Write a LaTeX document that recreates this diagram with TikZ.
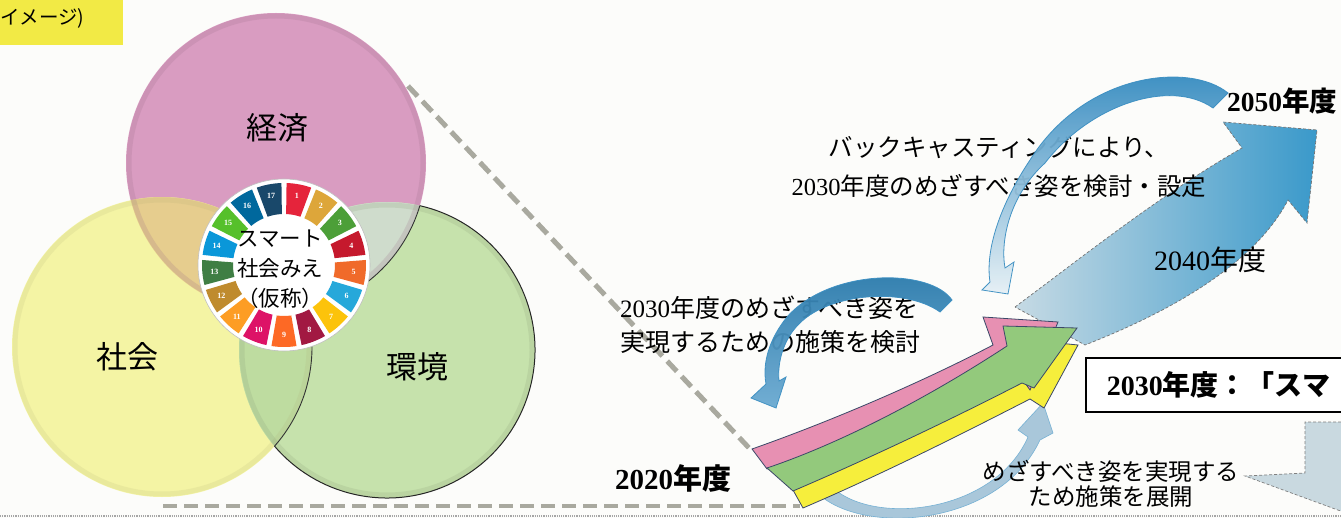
\documentclass[tikz,border=0pt]{standalone}
\usepackage{fontspec}
\usepackage{xcolor}
\newfontfamily\jp{Noto Sans CJK JP}
\newfontfamily\num{Liberation Serif}
\newcommand{\yr}[1]{{\num #1}}

\definecolor{paper}{HTML}{FCFCFA}
\definecolor{labely}{HTML}{F2EA45}
\definecolor{pinkc}{HTML}{D99CC1}
\definecolor{yelc}{HTML}{F4F4A4}
\definecolor{grnc}{HTML}{C6E2AC}
\definecolor{tanc}{HTML}{E6CD8E}
\definecolor{greyg}{HTML}{CFDCCC}
\definecolor{midg}{HTML}{BEDCA0}
\definecolor{guidegray}{HTML}{A9A99F}
\definecolor{sdga}{HTML}{E5243B}
\definecolor{sdgb}{HTML}{DDA63A}
\definecolor{sdgc}{HTML}{4C9F38}
\definecolor{sdgd}{HTML}{C5192D}
\definecolor{sdge}{HTML}{F06A2A}
\definecolor{sdgf}{HTML}{26A8DA}
\definecolor{sdgg}{HTML}{FCC30B}
\definecolor{sdgh}{HTML}{A21942}
\definecolor{sdgi}{HTML}{FD6925}
\definecolor{sdgj}{HTML}{DD1367}
\definecolor{sdgk}{HTML}{FD9D24}
\definecolor{sdgl}{HTML}{BF8B2E}
\definecolor{sdgm}{HTML}{3F7E44}
\definecolor{sdgn}{HTML}{0A97D9}
\definecolor{sdgo}{HTML}{56C02B}
\definecolor{sdgp}{HTML}{00689D}
\definecolor{sdgq}{HTML}{19486A}
\definecolor{bluepale}{HTML}{C6DAE4}
\definecolor{bluedeep}{HTML}{3A99CA}
\definecolor{arcdark}{HTML}{2C86BE}
\definecolor{arcpale}{HTML}{E6F0F5}
\definecolor{arcline}{HTML}{3C8FC2}
\definecolor{arclight}{HTML}{A9C7DA}
\definecolor{flowline}{HTML}{3B4868}
\definecolor{flowpink}{HTML}{E790B2}
\definecolor{flowgreen}{HTML}{93C97C}
\definecolor{flowyel}{HTML}{F6EE3C}
\definecolor{boxgray}{HTML}{C9D9E0}

\begin{document}
\begin{tikzpicture}[x=1pt,y=-1pt]
	\tikzstyle{txt} = [inner sep=0pt, align=center, font=\jp\fontsize{24.5}{39}\selectfont]
	\tikzstyle{circtxt} = [inner sep=0pt, font=\jp\fontsize{31}{31}\selectfont]
	\tikzstyle{yearb} = [inner sep=0pt, font=\jp\bfseries\fontsize{28}{28}\selectfont]
	\tikzstyle{guide} = [draw=guidegray, line width=5, dash pattern=on 14pt off 7pt]
	\tikzstyle{flow} = [draw=flowline, line width=0.8]
	\tikzstyle{sdgnum} = [inner sep=0pt, text=white, font=\num\bfseries\fontsize{8}{8}\selectfont]

	\useasboundingbox (0,0) rectangle (1341,518);
	\fill[paper] (0,0) rectangle (1341,518);

	% label top left
	\fill[labely] (0,0) rectangle (123,45);
	\node[anchor=west, inner sep=0pt, font=\jp\fontsize{19.5}{20}\selectfont] (img) at (0,18) {イメージ)};

	% three circles
	\coordinate (ec) at (276,163);
	\coordinate (sc) at (162,347);
	\coordinate (ev) at (387,350);
	\fill[pinkc] (ec) circle (150);
	\fill[yelc] (sc) circle (150);
	\fill[grnc] (ev) circle (148);
	\begin{scope}
		\clip (ec) circle (150);
		\fill[tanc] (sc) circle (150);
		\fill[greyg] (ev) circle (148);
	\end{scope}
	\begin{scope}
		\clip (sc) circle (150);
		\fill[midg] (ev) circle (148);
	\end{scope}
	\draw[pinkc!70!black, line width=5, opacity=0.2] (ec) circle (147);
	\draw[yelc!70!black, line width=5, opacity=0.15] (sc) circle (147);
	\draw[grnc!70!black, line width=5, opacity=0.2] (ev) circle (145);
	\begin{scope}
		\clip (ev) circle (148);
		\draw[black!80, line width=0.9] (ec) circle (150);
		\draw[black!80, line width=0.9] (sc) circle (150);
	\end{scope}
	\draw[black!85, line width=1] (ev) ++(-77.2:148) arc (-77.2:139.5:148);

	\node[circtxt] (econ) at (277,128) {経済};
	\node[circtxt] (soc) at (127,357) {社会};
	\node[circtxt] (env) at (417,367) {環境};

	% SDG wheel
	\begin{scope}[shift={(284,265)}, yscale=-1]
		\fill[white] (0,0) circle (86);
		\draw[black!25, line width=0.6] (0,0) circle (86);
		\foreach \c [count=\i] in {sdga,sdgb,sdgc,sdgd,sdge,sdgf,sdgg,sdgh,sdgi,sdgj,sdgk,sdgl,sdgm,sdgn,sdgo,sdgp,sdgq}{
			\pgfmathsetmacro{\a}{90-(\i-0.5)*360/17}
			\fill[\c] (\a-8.2:51) -- (\a-8.8:82) arc (\a-8.8:\a+8.8:82) -- (\a+8.2:51) arc (\a+8.2:\a-8.2:51) -- cycle;
			\node[sdgnum] (n\i) at (\a:70) {\i};
		}
	\end{scope}
	\node[inner sep=0pt, align=center, font=\jp\fontsize{21.5}{30}\selectfont] (smart) at (280,269) {スマート\\社会みえ\\（仮称）};

	% gray guide lines
	\coordinate (g1) at (408,86);
	\coordinate (g2) at (750,449);
	\coordinate (g3) at (163,506);
	\coordinate (g4) at (800,506);
	\draw[guide] (g1) -- (g2);
	\draw[guide, line width=4] (g3) -- (g4);
	\coordinate (f1) at (0,516);
	\coordinate (f2) at (1341,516);
	\draw[black!35, line width=1.2, densely dotted] (f1) -- (f2);

	% big arrow to 2050
	\shade[left color=bluepale, right color=bluedeep, draw=black!55, line width=0.7, densely dashed]
		(1015,307) .. controls (1085,255) and (1160,195) .. (1242,148) -- (1223,122) -- (1317,130)
		-- (1307,223) -- (1288,200) .. controls (1262,250) and (1200,300) .. (1085,345) -- cycle;

	% arrow at lower right
	\fill[boxgray, draw=black!50, line width=0.7, densely dashed]
		(1346,422) -- (1305,422) -- (1305,473) -- (1245,476) -- (1346,513) -- cycle;

	% goal box
	\node[draw=black, line width=1.8, fill=white, anchor=west, minimum height=54pt, inner xsep=21pt,
		font=\jp\bfseries\fontsize{28}{28}\selectfont] (goal) at (1085,385) {\yr{2030}年度：「スマ};

	% curved arrows
	\fill[arclight, draw=arcline!70, line width=0.6]
		(822,497) .. controls (870,535) and (1000,525) .. (1040,440) -- (1053,433) -- (1043,403)
		-- (1018,430) -- (1028,437) .. controls (995,512) and (878,526) .. (834,489) -- cycle;

	\node[txt] (bc) at (999,167) {バックキャスティングにより、\\\yr{2030}年度のめざすべき姿を検討・設定};
	\node[txt, align=left, anchor=west, font=\jp\fontsize{25}{34}\selectfont] (plan) at (620,325) {\yr{2030}年度のめざすべき姿を\\実現するための施策を検討};
	\node[txt, font=\jp\fontsize{23.5}{25}\selectfont] (act) at (1111,484) {めざすべき姿を実現する\\ため施策を展開};

	\shade[top color=arcdark, bottom color=arcpale, draw=arcline, line width=0.8, opacity=0.95]
		(1228,93) .. controls (1190,62) and (1085,72) .. (1030,160) .. controls (1000,205) and (985,250) .. (990,282)
		-- (982,290) -- (1008,294) -- (1014,262) -- (1005,268)
		.. controls (1000,240) and (1010,195) .. (1045,163) .. controls (1090,105) and (1170,78) .. (1213,108) -- cycle;
	\shade[top color=arcdark!90!black, bottom color=arcdark!70!white, draw=arcline, line width=0.8, opacity=0.95]
		(952,300) .. controls (930,268) and (830,268) .. (787,317) .. controls (770,338) and (762,362) .. (766,384)
		-- (751,398) -- (776,408) -- (786,377) -- (779,381)
		.. controls (777,360) and (785,337) .. (800,323) .. controls (830,293) and (905,287) .. (940,312) -- cycle;

	% three arrows
	\fill[flowyel, flow] (793,490) .. controls (870,458) and (950,420) .. (1030,372) -- (1048,342) -- (1078,345)
		-- (1044,408) -- (1030,399) .. controls (950,440) and (880,475) .. (803,508) -- cycle;
	\fill[flowpink, flow] (752,449) .. controls (840,418) and (930,378) .. (993,345) -- (983,317) -- (1058,322)
		-- (1030,390) -- (1020,376) .. controls (950,410) and (850,440) .. (767,469) -- cycle;
	\fill[flowgreen, flow] (767,468) .. controls (850,440) and (940,390) .. (1007,346) -- (1003,326) -- (1077,328)
		-- (1034,388) -- (1022,383) .. controls (950,420) and (870,458) .. (793,491) -- cycle;

	% years
	\node[yearb, font=\jp\bfseries\fontsize{27.5}{28}\selectfont] (y2050) at (1282,101) {\yr{2050}年度};
	\node[inner sep=0pt, font=\jp\fontsize{28}{28}\selectfont] (y2040) at (1210,260) {\yr{2040}年度};
	\node[yearb, font=\jp\bfseries\fontsize{29}{29}\selectfont] (y2020) at (673,478) {\yr{2020}年度};
\end{tikzpicture}
\end{document}
